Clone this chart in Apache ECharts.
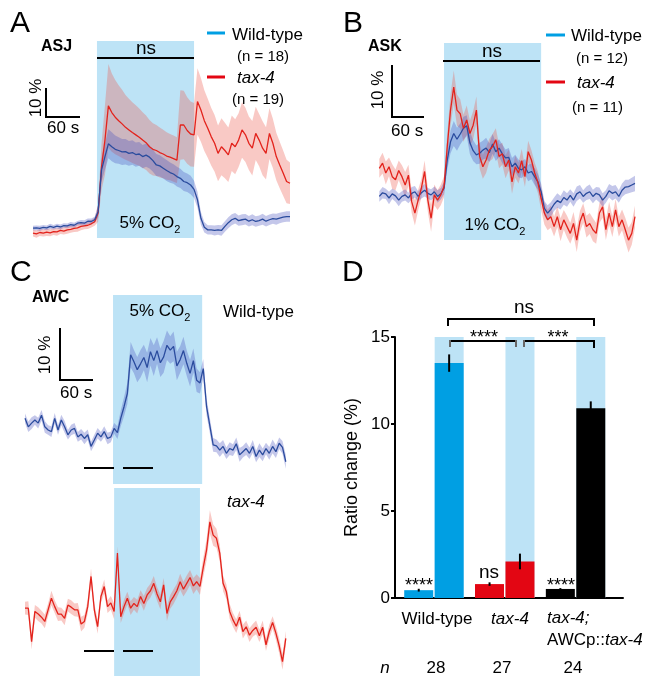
<!DOCTYPE html>
<html>
<head>
<meta charset="utf-8">
<script src="https://cdn.jsdelivr.net/npm/echarts@6/dist/echarts.min.js"></script>
<style>
html, body { margin: 0; padding: 0; background: #fff; }
#chart { width: 653px; height: 677px; }
</style>
</head>
<body>
<div id="chart"></div>
<script>
// ---- panel A (ASJ, 5% CO2), time in s, ratio change in % ----
const timesA = [0,6,12,18,24,30,36,42,48,54,60,66,72,78,84,90,96,102,108,114,120,126,132,138,144,150,156,162,168,174,180,186,192,198,204,210,216,222,228,234,240,246,252,258,264,270,276,282,288,294,300,306,312,318,324,330,336,342,348,354,360,366,372,378,384,390,396,402,408,414,420,426,432,438,444,450];
const asjWildMean = [-0.1,0,-0.2,0.2,0,0.5,0.2,0.6,0.3,0.8,0.7,1.1,0.9,1.6,1.8,1.6,2.3,2.2,2.8,5.6,20.0,24.6,29.0,28.0,27.1,26.7,26.2,26.3,25.7,26.0,25.3,25.5,24.6,25.1,24.4,23.2,21.7,21.4,20.6,19.8,19.1,18.6,17.7,17.1,16.0,15.6,14.8,13.3,9.7,3.3,0.2,-0.7,-0.7,-0.9,-0.7,-0.9,0.5,1.8,2.8,3.3,2.5,2.8,3.0,2.3,2.8,2.2,2.5,3.0,2.3,2.8,3.2,3.0,3.4,3.7,3.9,3.9];
const asjWildSem = [0.8,0.8,0.9,0.8,0.8,0.9,0.8,0.8,0.9,0.8,0.8,0.9,0.9,0.8,0.9,1.0,0.9,1.0,1.0,2.0,4.0,4.5,5.0,5.0,4.8,4.6,4.5,4.4,4.3,4.2,4.2,4.1,4.0,4.0,3.9,3.8,3.8,3.7,3.6,3.6,3.5,3.4,3.4,3.3,3.3,3.2,3.2,3.0,2.8,2.2,1.8,1.6,1.6,1.7,1.7,1.8,1.8,1.9,1.9,1.8,1.8,1.9,1.8,1.8,1.9,1.8,1.8,1.9,1.8,1.8,1.8,1.9,1.8,1.8,1.8,1.8];
const asjTaxMean = [-1.8,-2.1,-1.6,-1.8,-1.5,-1.7,-1.3,-1.4,-0.9,-1.1,-0.7,-0.5,-0.2,0,0.5,0.7,0.9,1.4,2.1,5.1,21.1,30.3,42.1,39.8,38.2,37.0,35.9,34.7,33.8,32.9,32.1,31.3,30.3,29.4,28.0,27.1,26.7,26.0,25.5,24.8,24.4,23.9,23.4,35.5,35.5,33.6,32.4,32.1,43.6,40.7,37.0,34.4,31.5,29.2,25.7,28.0,26.7,25.2,29.2,28.0,30.3,33.8,32.1,29.2,27.5,32.6,30.3,27.5,25.7,32.6,29.2,24.6,21.7,18.9,16.0,15.4];
const asjTaxSem = [1.2,1.3,1.2,1.2,1.3,1.2,1.2,1.3,1.2,1.2,1.3,1.2,1.2,1.3,1.3,1.2,1.3,1.3,1.4,3.0,8.0,12.0,14.5,13.5,12.8,12.2,11.8,11.2,10.8,10.5,10.2,9.9,9.6,9.4,9.2,9.0,8.8,8.6,8.4,8.2,8.0,8.0,7.9,12.0,11.8,11.5,11.2,11.0,11.5,11.0,10.5,10.2,10.0,9.8,9.6,9.8,9.6,9.4,9.6,9.5,9.3,9.6,9.4,9.2,9.4,9.2,9.0,9.3,9.0,8.8,8.5,8.2,8.0,7.8,7.5,7.2];
const stimA = [112, 282];

// ---- panels B (ASK, 1% CO2) and C (AWC, 5% CO2) ----
const timesBC = [0,6,12,18,24,30,36,42,48,54,60,66,72,78,84,90,96,102,108,114,120,126,132,138,144,150,156,162,168,174,180,186,192,198,204,210,216,222,228,234,240,246,252,258,264,270,276,282,288,294,300,306,312,318,324,330,336,342,348,354,360,366,372,378,384,390,396,402,408,414,420,426,432,438,444,450,456,462,468,474];
const askWildMean = [0.1,0.8,0.6,-0.2,0.6,0.2,-0.6,0.1,0.4,-0.2,0.7,1.0,0.1,0.8,1.3,0.7,0.4,1.0,0.1,0.6,1.7,7.1,10.6,12.2,11.1,12.1,13.2,13.7,10.4,8.9,8.1,8.4,9.0,9.4,8.5,10.2,8.7,9.4,8.3,7.5,7.6,5.8,6.5,5.5,5.2,5.8,4.6,4.9,3.9,2.9,1.0,-2.2,-3.1,-2.4,-1.4,-0.7,-1.1,-0.1,-0.6,0.3,-0.6,0.6,1.0,0.1,0.7,1.0,0.1,0.7,0.4,-0.6,0.1,1.2,0.7,1.0,0.1,1.3,1.9,2.0,2.3,2.6];
const askWildSem = [1.0,1.1,1.0,1.2,1.0,1.1,1.2,1.0,1.1,1.0,1.2,1.1,1.0,1.1,1.2,1.0,1.1,1.0,1.2,1.1,1.2,1.8,2.2,2.4,2.2,2.0,2.2,2.0,2.2,2.0,1.8,2.0,1.8,2.0,1.8,1.9,1.8,1.7,1.8,1.6,1.8,1.7,1.6,1.7,1.6,1.5,1.6,1.5,1.6,1.5,1.6,1.4,1.5,1.4,1.3,1.4,1.3,1.4,1.3,1.2,1.3,1.4,1.3,1.2,1.3,1.4,1.3,1.2,1.4,1.3,1.2,1.3,1.4,1.3,1.2,1.3,1.4,1.3,1.4,1.5];
const askTaxMean = [5.5,6.5,4.6,5.8,3.9,3.3,5.1,3.9,2.3,4.2,-0.9,-3.1,-0.6,1.7,4.9,-0.6,-4.1,0.4,-0.6,0.4,2.0,9.7,16.7,21.1,16.7,16.0,13.2,14.8,12.2,13.8,16.7,7.8,5.8,7.1,9.0,9.7,11.0,7.8,8.3,5.8,7.1,2.9,5.8,4.6,7.0,3.9,8.7,7.1,4.6,2.8,-0.3,-3.1,-4.4,-3.8,-5.7,-3.8,-6.3,-4.4,-5.7,-7.0,-5.1,-8.3,-4.7,-3.1,-5.7,-5.1,-6.3,-7.0,-3.1,-1.9,-6.3,-3.1,-5.7,-2.5,-5.7,-4.4,-6.3,-8.3,-7.0,-3.8];
const askTaxSem = [1.8,2.0,2.2,1.8,2.4,2.0,1.9,2.2,2.5,2.0,2.2,2.4,2.0,1.8,2.1,2.3,2.6,2.0,1.9,2.0,2.0,2.5,3.0,3.2,3.0,2.8,2.6,2.8,2.5,2.7,2.6,2.4,2.3,2.5,2.2,2.4,2.2,2.3,2.1,2.2,2.0,2.3,2.1,2.0,2.2,2.0,2.1,1.9,2.0,2.1,2.2,2.2,2.0,2.1,1.9,2.0,2.2,1.9,2.1,2.0,2.2,2.3,2.0,1.9,2.1,2.0,2.2,2.0,1.9,2.1,2.0,2.2,2.0,2.1,1.9,2.0,2.3,2.4,2.2,2.1];
const stimB = [120, 300];

const awcWildMean = [2.2,0.6,1.3,1.9,1.3,2.8,0.6,0,-0.3,2.2,0,1.9,0.6,-0.9,0,0.3,-1.3,-0.8,-1.6,-0.9,-3.1,-1.9,-0.6,-1.3,-0.3,-1.6,-1.3,0.3,-0.5,2.2,4.4,6.9,14.2,12.9,11.4,12.5,13.7,11.8,14.8,13.1,15.0,12.7,13.8,16.0,15.1,15.8,12.1,13.3,15.0,12.6,10.7,13.1,9.4,8.9,11.6,4.4,0.8,-2.8,-3.0,-3.8,-3.1,-4.4,-3.5,-3.8,-2.6,-4.7,-4.1,-3.5,-4.4,-3.1,-5.0,-3.8,-4.7,-3.5,-4.4,-3.1,-4.1,-2.5,-3.3,-6.0];
const awcWildSem = [0.9,1.0,1.1,0.9,1.0,1.0,1.1,0.9,1.0,1.0,0.9,1.0,1.1,0.9,1.0,1.0,0.9,1.0,1.1,1.0,0.9,1.0,1.0,0.9,1.0,1.1,1.0,1.0,1.2,1.5,1.8,2.0,2.4,2.2,2.4,2.6,2.4,2.8,2.6,2.9,2.5,2.7,3.0,2.8,2.6,2.8,2.7,2.5,2.6,2.4,2.5,2.3,2.2,2.0,1.8,1.6,1.4,1.3,1.2,1.3,1.2,1.1,1.2,1.1,1.2,1.3,1.1,1.2,1.1,1.2,1.1,1.3,1.2,1.1,1.2,1.3,1.2,1.1,1.2,1.3];
const awcTaxMean = [0.9,0.9,-5.4,0.3,-0.2,-0.8,-1.6,0.6,2.8,1.2,-0.2,-0.2,-1.0,1.5,1.1,0.6,0.6,-2.1,-1.6,1.2,6.9,0.6,-2.6,3.1,5.0,1.2,1.9,0.3,11.3,-0.7,1.2,2.8,0.9,1.8,1.2,3.1,1.8,3.4,4.2,5.6,3.6,2.1,5.3,-0.1,2.1,3.1,4.2,5.9,4.5,5.6,6.7,5.1,5.9,5.0,8.6,11.9,17.2,14.7,14.1,11.3,5.6,4.0,0.3,-1.3,-2.5,-0.8,-3.5,-2.6,-4.2,-3.3,-2.7,-4.3,-2.7,-6.0,-3.5,-1.8,-3.8,-6.2,-9.2,-4.8];
const awcTaxSem = [1.2,1.3,1.5,1.2,1.3,1.2,1.3,1.2,1.4,1.2,1.3,1.2,1.3,1.2,1.3,1.2,1.3,1.4,1.2,1.3,1.5,1.2,1.3,1.2,1.3,1.2,1.3,1.5,1.3,1.2,1.3,1.2,1.3,1.2,1.3,1.2,1.4,1.3,1.3,1.4,1.3,1.4,1.3,1.4,1.3,1.4,1.3,1.5,1.4,1.5,1.4,1.5,1.4,1.6,1.8,2.0,2.2,2.0,1.8,1.6,1.5,1.4,1.4,1.3,1.3,1.2,1.3,1.2,1.3,1.2,1.3,1.2,1.3,1.2,1.3,1.2,1.3,1.4,1.5,1.4];
const stimCwild = [160, 322];
const stimCtax = [162, 318];

// ---- panel D ----
const genotypes = ['Wild-type', 'tax-4', 'tax-4; AWCp::tax-4'];
const preMean = [0.45, 0.8, 0.52];
const preErr  = [0.08, 0.1, 0.05];
const co2Mean = [13.5, 2.1, 10.9];
const co2Err  = [0.5, 0.45, 0.4];
const nAnimals = [28, 27, 24];

const FONT = 'Liberation Sans, Arial, Helvetica, sans-serif';
const BLUE = '#2b4c9e', RED = '#e3231c', CYAN = '#009fe3', STIM = '#bde3f6';
const BLUE_BAND = 'rgba(70,80,190,0.32)', RED_BAND = 'rgba(236,90,80,0.33)';
const barColors = [CYAN, '#e30613', '#000000'];

const chart = echarts.init(document.getElementById('chart'), null, {renderer: 'canvas'});

function stimRect(gi, stim, lo, hi) {
  return {
    type: 'custom', xAxisIndex: gi, yAxisIndex: gi, z: 1, silent: true, clip: false,
    data: [[stim[0], stim[1], lo, hi]],
    renderItem: (params, api) => {
      const a = api.coord([api.value(0), api.value(3)]);
      const b = api.coord([api.value(1), api.value(2)]);
      return {type: 'rect', shape: {x: a[0], y: a[1], width: b[0] - a[0], height: b[1] - a[1]}, style: {fill: STIM}};
    }
  };
}

// mean ± sem band, drawn once as a single polygon through the axis scales
function band(gi, t, mean, sem, color) {
  return {
    type: 'custom', xAxisIndex: gi, yAxisIndex: gi, z: 2, silent: true, clip: false,
    data: t.map((x, i) => [x, mean[i] - sem[i], mean[i] + sem[i]]),
    renderItem: (params, api) => {
      if (params.dataIndex !== 0) return null;
      const up = [], lo = [];
      for (let i = 0; i < t.length; i++) {
        up.push(api.coord([t[i], mean[i] + sem[i]]));
        lo.push(api.coord([t[i], mean[i] - sem[i]]));
      }
      return {type: 'polygon', shape: {points: up.concat(lo.reverse())}, style: {fill: color}};
    }
  };
}

function trace(gi, t, mean, color) {
  return {type: 'line', xAxisIndex: gi, yAxisIndex: gi, symbol: 'none', silent: true, clip: false, z: 3,
    data: t.map((x, i) => [x, mean[i]]), lineStyle: {color: color, width: 1.3}};
}

function txt(x, y, text, o) {
  o = o || {};
  return {type: 'text', x: x, y: y, rotation: o.rot || 0, z: 50, silent: true,
    style: {text: text, fill: '#000', fontFamily: FONT, fontSize: o.size || 17,
      fontWeight: o.bold ? 'bold' : 'normal', fontStyle: o.italic ? 'italic' : 'normal',
      align: o.align || 'left', verticalAlign: 'middle', rich: o.rich}};
}
function ln(x1, y1, x2, y2, color, w) {
  return {type: 'line', z: 50, silent: true, shape: {x1: x1, y1: y1, x2: x2, y2: y2},
    style: {stroke: color || '#000', lineWidth: w || 2}};
}
function poly(points, color) {
  return {type: 'polyline', z: 50, silent: true, shape: {points: points}, style: {stroke: color || '#000', lineWidth: 2, fill: null}};
}
const co2Rich = {
  a: {fontSize: 17, fontFamily: FONT},
  s: {fontSize: 11, fontFamily: FONT, padding: [14, 0, 0, 0]}
};

const hidden = {show: false};
const option = {
  animation: false,
  textStyle: {fontFamily: FONT},
  grid: [
    {left: 33, top: 41, width: 257, height: 197},
    {left: 379.3, top: 43, width: 255.7, height: 207},
    {left: 25, top: 295, width: 263, height: 189},
    {left: 25, top: 488, width: 263, height: 188},
    {left: 395, top: 337, width: 228, height: 261}
  ],
  xAxis: [
    {gridIndex: 0, type: 'value', min: 0, max: 450, show: false},
    {gridIndex: 1, type: 'value', min: 0, max: 474, show: false},
    {gridIndex: 2, type: 'value', min: 0, max: 478, show: false},
    {gridIndex: 3, type: 'value', min: 0, max: 478, show: false},
    {gridIndex: 4, type: 'value', min: 0.45, max: 3.67,
      axisLine: {show: true, onZero: false, lineStyle: {color: '#000', width: 2}},
      axisTick: hidden, axisLabel: hidden, splitLine: hidden}
  ],
  yAxis: [
    {gridIndex: 0, type: 'value', min: -3.5, max: 64.5, show: false},
    {gridIndex: 1, type: 'value', min: -10.2, max: 29.6, show: false},
    {gridIndex: 2, type: 'value', min: -10.2, max: 25.5, show: false},
    {gridIndex: 3, type: 'value', min: -11.9, max: 23.6, show: false},
    {gridIndex: 4, type: 'value', min: 0, max: 15, interval: 5,
      axisLine: {show: true, lineStyle: {color: '#000', width: 2}},
      axisTick: {show: true, length: 4, lineStyle: {color: '#000', width: 2}},
      axisLabel: {color: '#000', fontSize: 17, margin: 5, fontFamily: FONT},
      splitLine: hidden,
      name: 'Ratio change (%)', nameLocation: 'middle', nameGap: 34,
      nameTextStyle: {color: '#000', fontSize: 18, fontFamily: FONT}}
  ],
  series: [
    stimRect(0, stimA, -3.5, 64.5),
    band(0, timesA, asjTaxMean, asjTaxSem, RED_BAND),
    band(0, timesA, asjWildMean, asjWildSem, BLUE_BAND),
    trace(0, timesA, asjTaxMean, RED),
    trace(0, timesA, asjWildMean, BLUE),

    stimRect(1, stimB, -8.3, 29.6),
    band(1, timesBC, askTaxMean, askTaxSem, RED_BAND),
    band(1, timesBC, askWildMean, askWildSem, BLUE_BAND),
    trace(1, timesBC, askWildMean, BLUE),
    trace(1, timesBC, askTaxMean, RED),

    stimRect(2, stimCwild, -10.2, 25.5),
    band(2, timesBC, awcWildMean, awcWildSem, BLUE_BAND),
    trace(2, timesBC, awcWildMean, BLUE),

    stimRect(3, stimCtax, -11.9, 23.6),
    band(3, timesBC, awcTaxMean, awcTaxSem, RED_BAND),
    trace(3, timesBC, awcTaxMean, RED),

    {type: 'bar', name: 'before', xAxisIndex: 4, yAxisIndex: 4, barWidth: 29, barGap: '5%', z: 3,
      data: preMean.map((v, i) => ({value: [i + 1, v], itemStyle: {color: barColors[i]}}))},
    {type: 'bar', name: 'CO2', xAxisIndex: 4, yAxisIndex: 4, barWidth: 29, barGap: '5%', z: 3,
      showBackground: true, backgroundStyle: {color: STIM},
      data: co2Mean.map((v, i) => ({value: [i + 1, v], itemStyle: {color: barColors[i]}}))},
    {type: 'custom', xAxisIndex: 4, yAxisIndex: 4, z: 4, silent: true, clip: false,
      data: preMean.map((v, i) => [i + 1, v - preErr[i], v + preErr[i], -1])
        .concat(co2Mean.map((v, i) => [i + 1, v - co2Err[i], v + co2Err[i], 1])),
      renderItem: (params, api) => {
        const lo = api.coord([api.value(0), api.value(1)]);
        const hi = api.coord([api.value(0), api.value(2)]);
        const dx = api.value(3) * 15.2;
        return {type: 'line', shape: {x1: lo[0] + dx, y1: lo[1], x2: hi[0] + dx, y2: hi[1]},
          style: {stroke: '#000', lineWidth: 2}};
      }}
  ],
  graphic: [
    // panel letters
    txt(10, 24, 'A', {size: 30}), txt(343, 24, 'B', {size: 30}),
    txt(10, 273, 'C', {size: 30}), txt(342, 273, 'D', {size: 30}),
    txt(41, 47, 'ASJ', {bold: true, size: 16}), txt(368, 47, 'ASK', {bold: true, size: 16}),
    txt(32, 298, 'AWC', {bold: true, size: 16}),
    // legend A
    ln(207, 33, 225, 33, CYAN, 3), txt(232, 35, 'Wild-type'), txt(237, 57, '(n = 18)', {size: 15}),
    ln(207, 77, 225, 77, '#e30613', 3), txt(237, 78, 'tax-4', {italic: true}), txt(232, 100, '(n = 19)', {size: 15}),
    // legend B
    ln(546, 35, 565, 35, CYAN, 3), txt(571, 36, 'Wild-type'), txt(576, 59, '(n = 12)', {size: 15}),
    ln(546, 82, 565, 82, '#e30613', 3), txt(577, 83, 'tax-4', {italic: true}), txt(572, 108, '(n = 11)', {size: 15}),
    // ns bars over stimulus
    txt(146, 49, 'ns', {align: 'center', size: 19}), ln(97, 58, 194, 58),
    txt(492, 52, 'ns', {align: 'center', size: 19}), ln(443, 61, 540, 61),
    // stimulus labels
    txt(150, 223, '{a|5% CO}{s|2}', {align: 'center', rich: co2Rich}),
    txt(495, 225, '{a|1% CO}{s|2}', {align: 'center', rich: co2Rich}),
    txt(160, 311, '{a|5% CO}{s|2}', {align: 'center', rich: co2Rich}),
    // scale bars
    ln(46, 88, 46, 118), ln(45, 117, 80, 117),
    txt(36, 98, '10 %', {rot: Math.PI / 2, align: 'center'}), txt(47, 128, '60 s'),
    ln(392, 65, 392, 118), ln(391, 117, 424, 117),
    txt(378, 90, '10 %', {rot: Math.PI / 2, align: 'center'}), txt(391, 131, '60 s'),
    ln(60, 328, 60, 381), ln(59, 380, 93, 380),
    txt(45, 355, '10 %', {rot: Math.PI / 2, align: 'center'}), txt(60, 393, '60 s'),
    // panel C labels and windows
    txt(223, 312, 'Wild-type'), txt(227, 502, 'tax-4', {italic: true}),
    ln(84, 468, 114, 468), ln(123, 468, 153, 468),
    ln(84, 651, 114, 651), ln(123, 651, 153, 651),
    // panel D category labels
    txt(437, 619, 'Wild-type', {align: 'center'}),
    txt(510, 619, 'tax-4', {align: 'center', italic: true}),
    txt(547, 618, 'tax-4;', {italic: true}),
    txt(547, 640, '{n|AWCp::}{i|tax-4}', {rich: {
      n: {fontSize: 17, fontFamily: FONT},
      i: {fontSize: 17, fontFamily: FONT, fontStyle: 'italic'}}}),
    txt(385, 668, 'n', {align: 'center', italic: true}),
    txt(436, 668, String(nAnimals[0]), {align: 'center'}),
    txt(502, 668, String(nAnimals[1]), {align: 'center'}),
    txt(573, 668, String(nAnimals[2]), {align: 'center'}),
    // significance
    txt(419, 586, '****', {align: 'center', size: 18}),
    txt(489, 573, 'ns', {align: 'center', size: 19}),
    txt(561, 586, '****', {align: 'center', size: 18}),
    txt(524, 308, 'ns', {align: 'center', size: 19}),
    poly([[448, 326], [448, 319], [594, 319], [594, 326]]),
    txt(484, 338, '****', {align: 'center', size: 18}),
    txt(558, 338, '***', {align: 'center', size: 18}),
    ln(450, 341, 516, 341), ln(450, 340, 450, 347, '#666'), ln(516, 340, 516, 347, '#666'),
    ln(524, 341, 594, 341), ln(524, 340, 524, 347, '#666'), ln(594, 340, 594, 348)
  ]
};
chart.setOption(option);
</script>
</body>
</html>
